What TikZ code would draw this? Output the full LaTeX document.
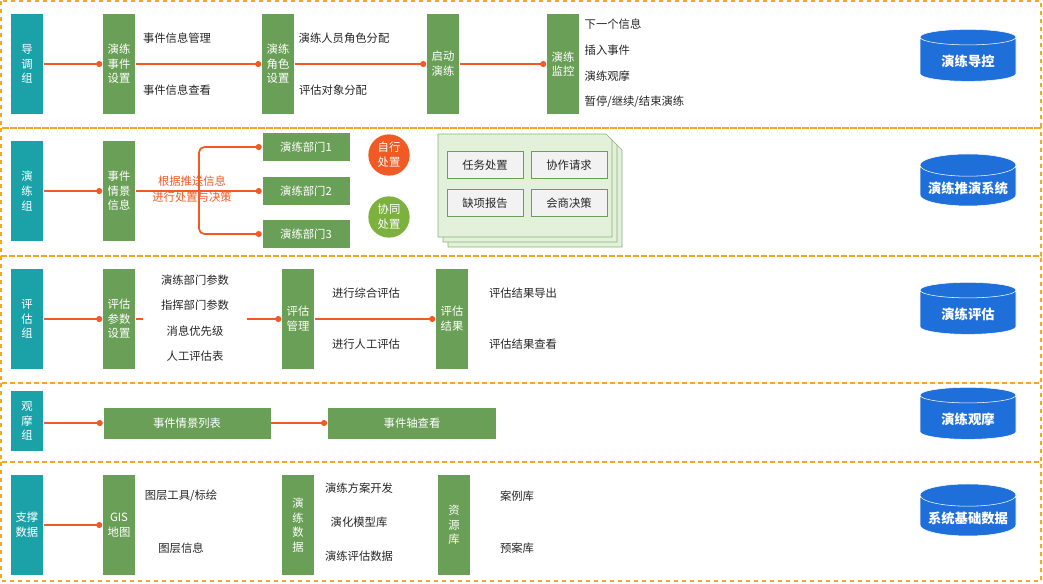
\documentclass[tikz,border=0pt]{standalone}
\usepackage{fontspec}
\setmainfont{Noto Sans CJK SC}
\usetikzlibrary{shapes.geometric,arrows.meta}
\definecolor{teal}{HTML}{1BA2A9}
\definecolor{grn}{HTML}{6A9F57}
\definecolor{lnk}{HTML}{F15A24}
\definecolor{band}{HTML}{F5A623}
\definecolor{cyl}{HTML}{1F6FDB}
\definecolor{coopg}{HTML}{7DB13F}
\definecolor{paper}{HTML}{E3F0DA}
\begin{document}
\begin{tikzpicture}[
            x = 0.75pt, y = -0.75pt,
            font = \fontsize{8.5}{11}\selectfont\color{black!85},
            group/.style = {fill=teal, draw=white, text=white, minimum width=24.75pt, align=center, inner sep=0pt},
            task/.style = {fill=grn, draw=white, text=white, minimum width=24.75pt, align=center, inner sep=0pt},
            link/.style = {lnk, line width=1.3pt},
            dot/.style = {-{Circle[length=4.5pt]}, lnk, line width=1.3pt},
            sys/.style = {cylinder, shape border rotate=90, aspect=0.25, fill=cyl, draw=white, text=white,
                          minimum width=72pt, minimum height=39pt, font=\fontsize{10}{12}\selectfont\bfseries},
            frame/.style = {draw=band, dashed, thick},
            card/.style = {draw=grn, fill=black!5, minimum width=57pt, minimum height=20pt}
        ]
	\useasboundingbox (0,0) rectangle (1043,583);

	% bands
	\draw[frame] (1,1) rectangle (1041,128);
	\draw[frame] (1,128) rectangle (1041,256);
	\draw[frame] (1,256) rectangle (1041,383);
	\draw[frame] (1,383) rectangle (1041,462);
	\draw[frame] (1,462) rectangle (1041,581);

	% row 1
	\node[group, minimum height=76pt] (g1) at (27,64) {导\\调\\组};
	\node[task, minimum height=76pt] (s11) at (119,64) {演练\\事件\\设置};
	\node[task, minimum height=76pt] (s12) at (278,64) {演练\\角色\\设置};
	\node[task, minimum height=76pt] (s13) at (443,64) {启动\\演练};
	\node[task, minimum height=76pt] (s14) at (563,64) {演练\\监控};
	\draw[dot] (g1) -- (s11);
	\draw[dot] (s11) -- (s12);
	\draw[dot] (s12) -- (s13);
	\draw[dot] (s13) -- (s14);
	\node (t111) at (177,38) {事件信息管理};
	\node (t112) at (177,90) {事件信息查看};
	\node (t121) at (344,38) {演练人员角色分配};
	\node (t122) at (333,90) {评估对象分配};
	\node[anchor=west] (t141) at (580,24) {下一个信息};
	\node[anchor=west] (t142) at (580,50) {插入事件};
	\node[anchor=west] (t143) at (580,76) {演练观摩};
	\node[anchor=west] (t144) at (580,102) {暂停/继续/结束演练};
	\node[sys] (c1) at (968,61) {演练导控};

	% row 2
	\node[group, minimum height=76pt] (g2) at (27,191) {演\\练\\组};
	\node[task, minimum height=76pt] (s21) at (119,191) {事件\\情景\\信息};
	\node[task, minimum width=66pt, minimum height=22pt] (d1) at (306,147) {演练部门1};
	\node[task, minimum width=66pt, minimum height=22pt] (d2) at (306,191) {演练部门2};
	\node[task, minimum width=66pt, minimum height=22pt] (d3) at (306,234) {演练部门3};
	\draw[dot] (g2) -- (s21);
	\draw[dot] (s21) -- (d2);
	\draw[dot, rounded corners=4pt] (199,191) |- (d1.west);
	\draw[dot, rounded corners=4pt] (199,191) |- (d3.west);
	\node[lnk, align=center, font=\fontsize{8.5}{12}\selectfont] (note) at (192,189) {根据推送信息\\进行处置与决策};
	\node[circle, fill=lnk, text=white, minimum size=31pt, inner sep=0pt, align=center] (own) at (389,155) {自行\\处置};
	\node[circle, fill=coopg, text=white, minimum size=31pt, inner sep=0pt, align=center] (coop) at (389,217) {协同\\处置};
	\foreach \o in {10,5,0}
		\draw[grn!80, fill=paper] (438+\o,134+\o) -- (606+\o,134+\o) -- (612+\o,140+\o) -- (612+\o,237+\o) -- (438+\o,237+\o) -- cycle;
	\node[card] (k1) at (485,165) {任务处置};
	\node[card] (k2) at (569,165) {协作请求};
	\node[card] (k3) at (485,203) {缺项报告};
	\node[card] (k4) at (569,203) {会商决策};
	\node[sys] (c2) at (968,188) {演练推演系统};

	% row 3
	\node[group, minimum height=76pt] (g3) at (27,319) {评\\估\\组};
	\node[task, minimum height=76pt] (s31) at (119,319) {评估\\参数\\设置};
	\node[task, minimum height=76pt] (s32) at (298,319) {评估\\管理};
	\node[task, minimum height=76pt] (s33) at (452,319) {评估\\结果};
	\coordinate (p31) at (143,319);
	\coordinate (p32) at (247,319);
	\draw[dot] (g3) -- (s31);
	\draw[link] (s31) -- (p31);
	\draw[dot] (p32) -- (s32);
	\draw[dot] (s32) -- (s33);
	\node (t311) at (195,280) {演练部门参数};
	\node (t312) at (195,305) {指挥部门参数};
	\node (t313) at (195,331) {消息优先级};
	\node (t314) at (195,356) {人工评估表};
	\node (t321) at (366,293) {进行综合评估};
	\node (t322) at (366,344) {进行人工评估};
	\node (t331) at (523,293) {评估结果导出};
	\node (t332) at (523,344) {评估结果查看};
	\node[sys] (c3) at (968,314) {演练评估};

	% row 4
	\node[group, minimum height=46pt] (g4) at (27,421) {观\\摩\\组};
	\node[task, minimum width=126pt, minimum height=24pt] (s41) at (187,423) {事件情景列表};
	\node[task, minimum width=127pt, minimum height=24pt] (s42) at (412,423) {事件轴查看};
	\draw[dot] (g4.east |- s41) -- (s41);
	\draw[dot] (s41) -- (s42);
	\node[sys] (c4) at (968,419) {演练观摩};

	% row 5
	\node[group, minimum height=76pt] (g5) at (27,525) {支撑\\数据};
	\node[task, minimum height=76pt] (s51) at (119,525) {GIS\\地图};
	\node[task, minimum height=76pt] (s52) at (298,525) {演\\练\\数\\据};
	\node[task, minimum height=76pt] (s53) at (454,525) {资\\源\\库};
	\draw[dot] (g5) -- (s51);
	\node (t511) at (181,496) {图层工具/标绘};
	\node (t512) at (181,548) {图层信息};
	\node (t521) at (359,488) {演练方案开发};
	\node (t522) at (359,522) {演化模型库};
	\node (t523) at (359,556) {演练评估数据};
	\node (t531) at (517,496) {案例库};
	\node (t532) at (517,548) {预案库};
	\node[sys] (c5) at (968,518) {系统基础数据};
\end{tikzpicture}
\end{document}
